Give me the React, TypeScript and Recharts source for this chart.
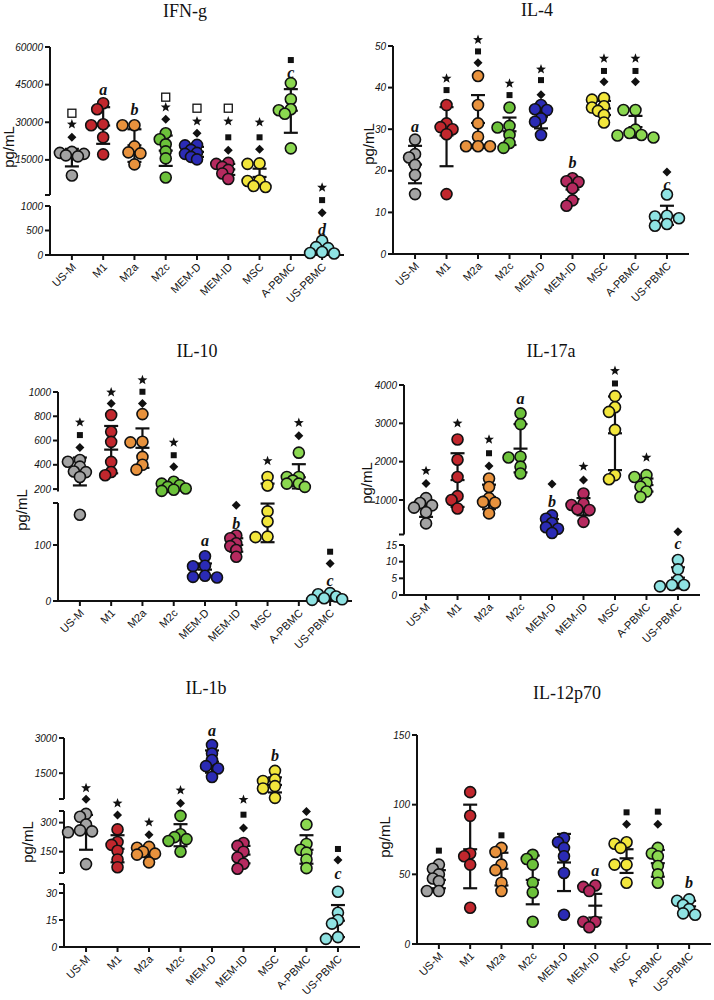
import React from 'react'
import { ScatterChart, Scatter, XAxis, YAxis, ReferenceLine, ReferenceDot } from 'recharts'

const GROUPS = ['US-M', 'M1', 'M2a', 'M2c', 'MEM-D', 'MEM-ID', 'MSC', 'A-PBMC', 'US-PBMC']
const FILLS = ['#a3a3a3', '#c1272d', '#e8923d', '#6cc13a', '#2b2bb5', '#b52a5f', '#f2e63c', '#8bd850', '#8fe3e3']

// mark = [kind, value, segment index (only when it sits in an axis gap)]
type Mark = [string, number, number?]

// IFN-g
const IFNG_POINTS = [
	[18200, 17800, 17400, 16800, 16400, 8800],
	[37600, 35200, 29200, 28800, 24000, 17200],
	[28800, 28800, 20400, 18000, 17600, 13200],
	[25600, 23200, 21200, 18400, 15600, 8000],
	[21000, 20800, 19000, 17800, 17400, 16200, 15200],
	[13800, 13400, 12200, 11000, 9600, 7400],
	[13600, 13400, 6800, 6600, 4600, 4200],
	[45600, 39200, 35200, 34800, 33400, 19600],
	[290, 160, 140, 60, 40, 30],
]
const IFNG_MEAN = [15900, 28700, 20800, 18700, 18200, 11200, 8200, 34600, 120]
const IFNG_LOW = [12400, 21400, 14200, 12600, 16200, 9000, 4900, 25800, 30]
const IFNG_HIGH = [19400, 36000, 27200, 24700, 20200, 13400, 11500, 43200, 215]
const IFNG_MARKS: Mark[][] = [
	[['open', 33600], ['star', 29200], ['dia', 24000]],
	[['a', 43200]],
	[['b', 35200]],
	[['open', 40000], ['star', 36000], ['dia', 31200]],
	[['open', 35600], ['star', 30400], ['dia', 25600]],
	[['open', 35600], ['star', 30400], ['sq', 24000], ['dia', 18800]],
	[['star', 30000], ['sq', 24000], ['dia', 19200]],
	[['sq', 54800], ['c', 50000]],
	[['star', 4000], ['sq', 1120, 1], ['dia', 860], ['d', 530]],
]

// IL-4
const IL4_POINTS = [
	[27.5, 24.0, 23.2, 21.4, 19.0, 14.4],
	[35.8, 31.4, 30.5, 30.0, 28.8, 14.4],
	[42.8, 35.8, 31.4, 28.2, 25.9, 25.9, 25.9],
	[35.2, 30.8, 30.4, 28.6, 26.7, 25.5],
	[35.8, 34.8, 34.6, 32.6, 31.8, 28.6],
	[18.2, 17.5, 17.3, 15.8, 12.9, 11.6],
	[37.5, 37.1, 35.5, 35.2, 34.4, 33.4, 31.6],
	[34.6, 34.6, 29.9, 29.1, 28.6, 28.5, 28.0],
	[14.3, 9.2, 9.0, 8.6, 7.2, 6.8],
]
const IL4_MEAN = [21.5, 28.5, 31.5, 29.5, 33.0, 15.5, 35.0, 30.5, 9.2]
const IL4_LOW = [17.0, 21.1, 25.5, 26.2, 30.2, 13.2, 33.4, 28.0, 7.0]
const IL4_HIGH = [26.0, 35.3, 38.2, 32.8, 35.6, 17.8, 36.8, 33.2, 11.6]
const IL4_MARKS: Mark[][] = [
	[['a', 30.7]],
	[['star', 42.2], ['sq', 39.4]],
	[['star', 51.5], ['sq', 48.7], ['dia', 46.0]],
	[['star', 41.0], ['sq', 38.2]],
	[['star', 44.4], ['sq', 41.8], ['dia', 38.3]],
	[['b', 22.0]],
	[['star', 47.0], ['sq', 44.0], ['dia', 41.4]],
	[['star', 47.0], ['sq', 44.0], ['dia', 41.4]],
	[['dia', 19.7], ['c', 16.7]],
]

// IL-10
const IL10_POINTS = [
	[440, 425, 385, 345, 340, 300, 154],
	[810, 672, 589, 424, 341, 314],
	[818, 590, 585, 465, 400, 360],
	[260, 245, 232, 218, 205, 195, 185],
	[80, 63, 62, 45, 43, 42],
	[117, 112, 103, 98, 91, 79],
	[300, 230, 160, 142, 115, 114],
	[500, 300, 300, 270, 245, 245, 218],
	[14, 12, 8, 5, 3, 2],
]
const IL10_MEAN = [345, 525, 540, 225, 56, 100, 174, 297, 7]
const IL10_LOW = [230, 330, 375, 198, 45, 88, 105, 205, 2]
const IL10_HIGH = [460, 720, 700, 252, 67, 112, 245, 405, 12]
const IL10_MARKS: Mark[][] = [
	[['star', 750], ['sq', 645], ['dia', 543]],
	[['star', 998], ['dia', 906]],
	[['star', 1099], ['sq', 1002], ['dia', 906]],
	[['star', 584], ['sq', 479], ['dia', 383]],
	[['a', 108]],
	[['dia', 171], ['b', 139]],
	[['star', 432]],
	[['star', 746], ['dia', 639]],
	[['sq', 88], ['dia', 67], ['c', 37]],
]

// IL-17a
const IL17_POINTS = [
	[1050, 920, 860, 800, 680, 390],
	[2580, 2050, 1600, 1100, 1000, 780],
	[1560, 1340, 1050, 950, 930, 650],
	[3260, 2980, 2130, 2110, 1870, 1690],
	[600, 510, 400, 290, 250, 140],
	[1170, 910, 870, 760, 740, 430],
	[3710, 3420, 3300, 2830, 1650, 1540],
	[1650, 1600, 1450, 1350, 1220, 1080],
	[10.5, 7.7, 4.5, 3.0, 3.0, 2.6],
]
const IL17_MEAN = [780, 1520, 1080, 2340, 370, 815, 2740, 1390, 5.2]
const IL17_LOW = [560, 820, 760, 1720, 250, 600, 1780, 1220, 2.0]
const IL17_HIGH = [1000, 2220, 1400, 2980, 500, 1050, 3700, 1560, 8.3]
const IL17_MARKS: Mark[][] = [
	[['star', 1760], ['dia', 1430]],
	[['star', 3000]],
	[['star', 2580], ['sq', 2220], ['dia', 1890]],
	[['a', 3650]],
	[['dia', 1415], ['b', 953]],
	[['star', 1870], ['dia', 1520]],
	[['star', 4370], ['sq', 4040]],
	[['star', 2110]],
	[['dia', 170], ['c', 15.5]],
]

// IL-1b
const IL1B_POINTS = [
	[345, 330, 290, 260, 255, 250, 86],
	[265, 200, 185, 155, 110, 70],
	[175, 170, 150, 140, 135, 95],
	[335, 240, 225, 215, 205, 150],
	[2700, 2340, 2060, 1800, 1700, 1340],
	[195, 180, 150, 120, 88, 62],
	[1600, 1230, 1170, 950, 850, 450],
	[290, 190, 160, 145, 110, 65],
	[30.7, 19, 15, 13, 5.5, 4.5],
]
const IL1B_MEAN = [260, 165, 145, 235, 1990, 135, 1000, 160, 14.6]
const IL1B_LOW = [160, 95, 122, 178, 1520, 90, 680, 88, 5.5]
const IL1B_HIGH = [340, 235, 165, 292, 2470, 180, 1320, 235, 23.3]
const IL1B_MARKS: Mark[][] = [
	[['star', 870], ['dia', 390, 0]],
	[['star', 400, 1], ['dia', 340]],
	[['star', 302], ['dia', 238]],
	[['star', 771], ['dia', 400, 1]],
	[['a', 3340]],
	[['star', 372, 0], ['sq', 341], ['dia', 272]],
	[['b', 2270]],
	[['dia', 357]],
	[['sq', 164], ['dia', 107], ['c', 38.7]],
]

// IL-12p70
const IL12_POINTS = [
	[57, 54, 50, 47, 45, 38, 38],
	[109, 92, 65, 63, 57, 26],
	[69, 66, 57, 53, 44, 38],
	[64, 61, 57, 44, 37, 16],
	[76, 73, 69, 63, 51, 21],
	[42, 41, 38, 16, 16, 12],
	[73, 72, 69, 57, 57, 44],
	[69, 65, 63, 56, 50, 44],
	[32, 31, 28, 25, 22, 21],
]
const IL12_MEAN = [46, 68, 54, 46, 58.5, 27.5, 61.5, 58, 27]
const IL12_LOW = [40, 40, 42, 28.5, 38, 19, 51, 48.3, 23]
const IL12_HIGH = [53, 100, 65.5, 63.5, 79, 36, 68, 67.5, 31]
const IL12_MARKS: Mark[][] = [
	[['sq', 67]],
	[],
	[['sq', 78]],
	[],
	[],
	[['a', 52.6]],
	[['sq', 94.5], ['dia', 86]],
	[['sq', 95], ['dia', 86]],
	[['b', 44]],
]

const SANS = '"Liberation Sans", Arial, sans-serif'
const SERIF = '"Liberation Serif", "Times New Roman", serif'
const X_DOMAIN: [number, number] = [-0.7, 8.7]
const X_TICKS = GROUPS.map((_, i) => i)
const CAP = 7
const XH = 50
const OFFSETS = [0, -6, 6, -12, 12, -18, 18]
const GAP = 6.5

type Seg = { domain: [number, number]; ticks: number[]; blank?: number[]; top: number; bottom: number }
type Panel = {
	title: string
	left: number
	top: number
	width: number
	height: number
	axisX: number
	plotRight: number
	titleX: number
	titleY: number
	labelX: number
	labelY: number
	segs: Seg[]
	points: number[][]
	mean: number[]
	low: number[]
	high: number[]
	marks: Mark[][]
}

const PANELS: Panel[] = [
	{
		title: 'IFN-g', left: 0, top: 0, width: 365, height: 325, axisX: 50, plotRight: 344,
		titleX: 185, titleY: 11, labelX: 9, labelY: 147,
		segs: [
			{ domain: [1000, 60000], ticks: [1000, 15000, 30000, 45000, 60000], blank: [1000], top: 47, bottom: 195 },
			{ domain: [0, 1000], ticks: [0, 500, 1000], top: 206, bottom: 255 },
		],
		points: IFNG_POINTS, mean: IFNG_MEAN, low: IFNG_LOW, high: IFNG_HIGH, marks: IFNG_MARKS,
	},
	{
		title: 'IL-4', left: 357, top: 0, width: 357, height: 325, axisX: 393, plotRight: 689,
		titleX: 537, titleY: 10, labelX: 369, labelY: 144,
		segs: [{ domain: [0, 50], ticks: [0, 10, 20, 30, 40, 50], top: 46, bottom: 254 }],
		points: IL4_POINTS, mean: IL4_MEAN, low: IL4_LOW, high: IL4_HIGH, marks: IL4_MARKS,
	},
	{
		title: 'IL-10', left: 0, top: 330, width: 365, height: 325, axisX: 58, plotRight: 352,
		titleX: 197, titleY: 351, labelX: 22, labelY: 510,
		segs: [
			{ domain: [180, 1000], ticks: [200, 400, 600, 800, 1000], top: 392, bottom: 491.5 },
			{ domain: [0, 175], ticks: [0, 100, 175], blank: [175], top: 503, bottom: 601 },
		],
		points: IL10_POINTS, mean: IL10_MEAN, low: IL10_LOW, high: IL10_HIGH, marks: IL10_MARKS,
	},
	{
		title: 'IL-17a', left: 357, top: 330, width: 357, height: 325, axisX: 404, plotRight: 700,
		titleX: 551, titleY: 351, labelX: 367, labelY: 483,
		segs: [
			{ domain: [100, 4000], ticks: [100, 1000, 2000, 3000, 4000], blank: [100], top: 385, bottom: 534.5 },
			{ domain: [0, 15], ticks: [0, 5, 10, 15], top: 545, bottom: 595 },
		],
		points: IL17_POINTS, mean: IL17_MEAN, low: IL17_LOW, high: IL17_HIGH, marks: IL17_MARKS,
	},
	{
		title: 'IL-1b', left: 0, top: 660, width: 365, height: 340, axisX: 64, plotRight: 360,
		titleX: 206, titleY: 688, labelX: 28, labelY: 842,
		segs: [
			{ domain: [400, 3000], ticks: [400, 1500, 3000], blank: [400], top: 738, bottom: 799 },
			{ domain: [40, 360], ticks: [40, 150, 300, 360], blank: [40, 360], top: 811, bottom: 873 },
			{ domain: [0, 35], ticks: [0, 15, 30, 35], blank: [35], top: 884, bottom: 947 },
		],
		points: IL1B_POINTS, mean: IL1B_MEAN, low: IL1B_LOW, high: IL1B_HIGH, marks: IL1B_MARKS,
	},
	{
		title: 'IL-12p70', left: 357, top: 660, width: 357, height: 340, axisX: 417, plotRight: 711,
		titleX: 567, titleY: 693, labelX: 385, labelY: 837,
		segs: [{ domain: [0, 150], ticks: [0, 50, 100, 150], top: 735, bottom: 944 }],
		points: IL12_POINTS, mean: IL12_MEAN, low: IL12_LOW, high: IL12_HIGH, marks: IL12_MARKS,
	},
]

function starPath(cx: number, cy: number, R: number, r: number) {
	let d = ''
	for (let i = 0; i < 10; i++) {
		const a = -Math.PI / 2 + (i * Math.PI) / 5
		const rad = i % 2 === 0 ? R : r
		d += (i ? 'L' : 'M') + (cx + rad * Math.cos(a)).toFixed(2) + ',' + (cy + rad * Math.sin(a)).toFixed(2)
	}
	return d + 'Z'
}

const MarkShape = ({ kind, cx, cy }: { kind: string; cx: number; cy: number }) => {
	if (kind === 'star') return <path d={starPath(cx, cy, 5.2, 2.2)} fill="#111" />
	if (kind === 'sq') return <rect x={cx - 3} y={cy - 3} width={6} height={6} fill="#111" />
	if (kind === 'dia')
		return <path d={`M${cx},${cy - 4.5}L${cx + 4.5},${cy}L${cx},${cy + 4.5}L${cx - 4.5},${cy}Z`} fill="#111" />
	if (kind === 'open')
		return <rect x={cx - 4} y={cy - 4} width={8} height={8} fill="#fff" stroke="#111" strokeWidth={1.3} />
	return (
		<text x={cx} y={cy} dy="0.35em" textAnchor="middle" fontFamily={SERIF} fontStyle="italic" fontWeight="bold" fontSize={16} fill="#111">
			{kind}
		</text>
	)
}

const XTick = (props: any) => {
	const { x, y, payload } = props
	return (
		<text transform={`translate(${x + 2},${y + 3}) rotate(-45)`} textAnchor="end" dy="0.35em" fontSize={11} fontFamily={SANS} fill="#111">
			{GROUPS[payload.value]}
		</text>
	)
}

function segFor(segs: Seg[], v: number) {
	let best = 0
	let bd = Infinity
	segs.forEach((s, i) => {
		const d = v < s.domain[0] ? s.domain[0] - v : v > s.domain[1] ? v - s.domain[1] : 0
		if (d < bd) {
			bd = d
			best = i
		}
	})
	return best
}

function SegmentChart({ p, seg, index }: { p: Panel; seg: Seg; index: number }) {
	const last = index === p.segs.length - 1
	const [lo, hi] = seg.domain
	const inSeg = (v: number) => v >= lo && v <= hi
	const yPx = (seg.bottom - seg.top) / (hi - lo)
	const xPx = (p.plotRight - p.axisX) / (X_DOMAIN[1] - X_DOMAIN[0])
	const cap = CAP / xPx

	// simple beeswarm so that dots of one group do not sit on top of each other
	const pts: { x: number; y: number; g: number }[] = []
	p.points.forEach((vals, g) => {
		const placed: { dx: number; y: number }[] = []
		vals
			.filter(inSeg)
			.sort((a, b) => b - a)
			.forEach((v) => {
				const y = v * yPx
				const dx = OFFSETS.find((c) => placed.every((q) => Math.hypot(q.dx - c, q.y - y) >= GAP)) ?? 0
				placed.push({ dx, y })
				pts.push({ x: g + dx / xPx, y: v, g })
			})
	})

	const line = { stroke: '#111', strokeWidth: 2.2, ifOverflow: 'visible' as const }
	const bars: React.ReactNode[] = []
	p.mean.forEach((m, g) => {
		const a = Math.max(p.low[g], lo)
		const b = Math.min(p.high[g], hi)
		if (a < b) bars.push(<ReferenceLine key={`v${g}`} segment={[{ x: g, y: a }, { x: g, y: b }]} {...line} />)
		;[p.low[g], p.high[g], m].forEach((v, k) => {
			if (inSeg(v))
				bars.push(
					<ReferenceLine key={`h${g}-${k}`} segment={[{ x: g - cap, y: v }, { x: g + cap, y: v }]} {...line} />
				)
		})
	})

	const dots: React.ReactNode[] = []
	p.marks.forEach((list, g) => {
		list.forEach(([kind, v, s], k) => {
			const si = s ?? segFor(p.segs, v)
			if (si !== index) return
			dots.push(
				<ReferenceDot
					key={`m${g}-${k}`}
					x={g}
					y={v}
					ifOverflow="visible"
					shape={(d: any) => <MarkShape kind={kind} cx={d.cx} cy={d.cy} />}
				/>
			)
		})
	})

	const margin = {
		top: seg.top - p.top,
		right: p.left + p.width - p.plotRight,
		left: 0,
		bottom: p.top + p.height - seg.bottom - (last ? XH : 0),
	}
	const blank = seg.blank ?? []

	return (
		<div style={{ position: 'absolute', left: 0, top: 0 }}>
			<ScatterChart width={p.width} height={p.height} margin={margin}>
				<XAxis
					type="number"
					dataKey="x"
					domain={X_DOMAIN}
					ticks={X_TICKS}
					interval={0}
					hide={!last}
					height={XH}
					tick={(t: any) => <XTick {...t} />}
					tickSize={5}
					tickMargin={2}
					tickLine={{ stroke: '#111', strokeWidth: 2 }}
					axisLine={{ stroke: '#111', strokeWidth: 2 }}
				/>
				<YAxis
					type="number"
					dataKey="y"
					domain={seg.domain}
					ticks={seg.ticks}
					interval={0}
					width={p.axisX - p.left}
					tickSize={5}
					tickMargin={2}
					tickLine={{ stroke: '#111', strokeWidth: 2 }}
					axisLine={{ stroke: '#111', strokeWidth: 2 }}
					tick={{ fontSize: 10, fontStyle: 'italic', fontFamily: SANS, fill: '#111' }}
					tickFormatter={(v: number) => (blank.includes(v) ? '' : String(v))}
				/>
				<Scatter
					data={pts}
					isAnimationActive={false}
					shape={(s: any) => (
						<circle cx={s.cx} cy={s.cy} r={5.5} fill={FILLS[s.payload.g]} stroke="#111" strokeWidth={1.6} />
					)}
				/>
				{bars}
				{dots}
			</ScatterChart>
		</div>
	)
}

function PanelView({ p }: { p: Panel }) {
	return (
		<div style={{ position: 'absolute', left: p.left, top: p.top, width: p.width, height: p.height }}>
			{p.segs.map((seg, i) => (
				<SegmentChart key={i} p={p} seg={seg} index={i} />
			))}
			<div
				style={{
					position: 'absolute',
					left: p.titleX - p.left - 60,
					top: p.titleY - p.top - 11,
					width: 120,
					lineHeight: '22px',
					textAlign: 'center',
					fontFamily: SERIF,
					fontSize: 18,
					color: '#111',
				}}>
				{p.title}
			</div>
			<div
				style={{
					position: 'absolute',
					left: p.labelX - p.left - 40,
					top: p.labelY - p.top - 10,
					width: 80,
					lineHeight: '20px',
					textAlign: 'center',
					fontFamily: SANS,
					fontSize: 15,
					color: '#111',
					transform: 'rotate(-90deg)',
				}}>
				pg/mL
			</div>
		</div>
	)
}

export default function App() {
	return (
		<div style={{ position: 'fixed', left: 0, top: 0, width: 714, height: 1000, background: '#fff', overflow: 'hidden' }}>
			{PANELS.map((p) => (
				<PanelView key={p.title} p={p} />
			))}
		</div>
	)
}
